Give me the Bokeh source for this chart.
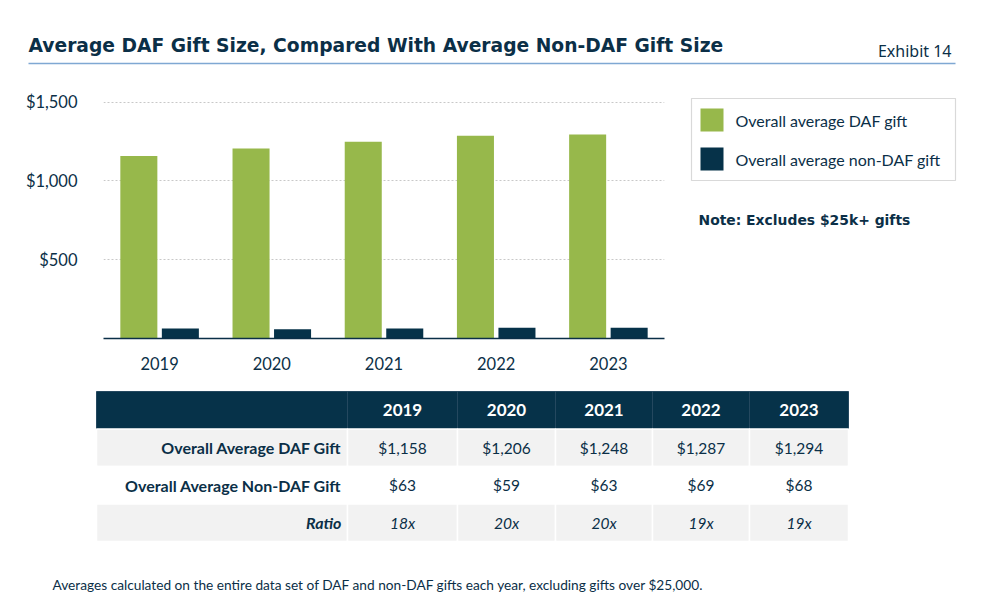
from bokeh.plotting import figure
from bokeh.models import (ColumnDataSource, FactorRange, Range1d, FixedTicker,
                          NumeralTickFormatter)
from bokeh.transform import dodge
from bokeh.layouts import column, row
from bokeh.core.properties import value
from bokeh.embed import file_html
from bokeh.resources import INLINE

# ---------------- data ----------------
years = ["2019", "2020", "2021", "2022", "2023"]
daf_avg = [1158, 1206, 1248, 1287, 1294]
non_daf_avg = [63, 59, 63, 69, 68]
series_names = ["Overall average DAF gift", "Overall average non-DAF gift"]
row_labels = ["Overall Average DAF Gift", "Overall Average Non-DAF Gift", "Ratio"]
y_ticks = [500, 1000, 1500]
title_text = "Average DAF Gift Size, Compared With Average Non-DAF Gift Size"
exhibit_text = "Exhibit 14"
note_text = "Note: Excludes $25k+ gifts"
footnote_text = ("Averages calculated on the entire data set of DAF and non-DAF gifts "
                 "each year, excluding gifts over $25,000.")

# ---------------- style ----------------
GREEN = "#97b84b"
NAVY = "#063249"
TEXT = "#0b2f47"
GRAY_ROW = "#f2f2f2"
W = 986
BODY_FONT = "Lato"
HEAD_FONT = "DejaVu Sans"


def blank(width, height, x0, x1, y0, y1):
    f = figure(width=width, height=height, x_range=Range1d(x0, x1),
               y_range=Range1d(y0, y1), x_axis_type=None, y_axis_type=None,
               toolbar_location=None, output_backend="svg", min_border=0)
    f.grid.visible = False
    f.outline_line_color = None
    f.background_fill_color = "white"
    f.border_fill_color = "white"
    return f

# ---------------- header ----------------
head = blank(W, 80, 0, W, 80, 0)
head.text(x=[28], y=[44.5], text=[title_text], text_font=value(HEAD_FONT),
          text_font_style="bold", text_font_size="18.7px", text_color=TEXT,
          text_baseline="middle", text_align="left")
head.text(x=[951], y=[50], text=[exhibit_text], text_font=value("Noto Sans"),
          text_font_size="16px", text_color=TEXT,
          text_baseline="middle", text_align="right")
head.segment(x0=[28], x1=[955], y0=[63], y1=[63], line_color="#7fa8d3", line_width=1.5)

# ---------------- bar chart ----------------
src = ColumnDataSource(dict(year=years, daf=daf_avg, non=non_daf_avg))
bar = figure(width=680, height=300, x_range=FactorRange(factors=years, range_padding=0),
             y_range=Range1d(0, 1574), toolbar_location=None, output_backend="svg",
             min_border_left=103, min_border_right=16, min_border_top=10,
             min_border_bottom=42)
bar.outline_line_color = None
bar.vbar(x=dodge("year", -0.185, range=bar.x_range), top="daf", width=0.33,
         source=src, fill_color=GREEN, line_color=None)
bar.vbar(x=dodge("year", 0.185, range=bar.x_range), top="non", width=0.33,
         source=src, fill_color=NAVY, line_color=None)

bar.xgrid.grid_line_color = None
bar.ygrid.ticker = FixedTicker(ticks=y_ticks)
bar.ygrid.grid_line_color = "#c8c8c8"
bar.ygrid.grid_line_dash = "2 2"

bar.yaxis.ticker = FixedTicker(ticks=y_ticks)
bar.yaxis.formatter = NumeralTickFormatter(format="$0,0")
bar.yaxis.axis_line_color = None
bar.yaxis.major_tick_line_color = None
bar.yaxis.minor_tick_line_color = None
bar.yaxis.major_label_standoff = 20
bar.yaxis.major_label_text_font = BODY_FONT
bar.yaxis.major_label_text_font_size = "16.5px"
bar.yaxis.major_label_text_color = TEXT

bar.xaxis.axis_line_color = TEXT
bar.xaxis.axis_line_width = 1.5
bar.xaxis.major_tick_line_color = None
bar.xaxis.minor_tick_line_color = None
bar.xaxis.major_label_standoff = 12
bar.xaxis.major_label_text_font = BODY_FONT
bar.xaxis.major_label_text_font_size = "16.5px"
bar.xaxis.major_label_text_color = TEXT

# ---------------- legend + note ----------------
# this panel's frame is aligned with the bar chart's frame (page y 90..338)
side = blank(306, 300, 680, 986, 338, 90)
LEG_L, LEG_R, LEG_T, LEG_B = 691, 955, 98, 180
side.quad(left=[LEG_L], right=[LEG_R], top=[LEG_T], bottom=[LEG_B],
          fill_color="white", line_color="#d9d9d9", line_width=1.2)
sw_top = [108 + 39 * i for i in range(len(series_names))]
side.quad(left=[700] * 2, right=[723] * 2, top=sw_top, bottom=[t + 23 for t in sw_top],
          fill_color=[GREEN, NAVY], line_color=None)
side.text(x=[735] * 2, y=[t + 11.5 for t in sw_top], text=series_names,
          text_font=value(BODY_FONT), text_font_size="16px", text_color=TEXT,
          text_baseline="middle", text_align="left")
side.text(x=[698], y=[219.5], text=[note_text], text_font=value(HEAD_FONT),
          text_font_style="bold", text_font_size="13.9px", text_color=TEXT,
          text_baseline="middle", text_align="left")

# ---------------- table ----------------
tab = blank(W, 227, 0, W, 607, 380)
edges = [96, 347, 457, 555, 652, 749, 848]
TOP = 391
RH = 37.5
# header
tab.quad(left=edges[:-1], right=edges[1:], top=[TOP] * 6, bottom=[TOP + RH] * 6,
         fill_color=NAVY, line_color="#24485f", line_width=1)
centers = [(edges[i] + edges[i + 1]) / 2 for i in range(1, 6)]
tab.text(x=centers, y=[TOP + RH / 2] * 5, text=years, text_font=value(BODY_FONT),
         text_font_style="bold", text_font_size="17px", text_color="white",
         text_baseline="middle", text_align="center")
# body
daf_txt = [f"${v:,}" for v in daf_avg]
non_txt = [f"${v:,}" for v in non_daf_avg]
ratio_txt = [f"{round(d / n)}x" for d, n in zip(daf_avg, non_daf_avg)]
rows = [daf_txt, non_txt, ratio_txt]
for r, vals in enumerate(rows):
    t = TOP + RH * (r + 1)
    fill = GRAY_ROW if r % 2 == 0 else "white"
    tab.quad(left=edges[:-1], right=edges[1:], top=[t] * 6, bottom=[t + RH] * 6,
             fill_color=fill, line_color="white", line_width=1.5)
    style = "italic" if r == 2 else "normal"
    tab.text(x=[edges[1] - 6], y=[t + RH / 2], text=[row_labels[r]],
             text_font=value(BODY_FONT),
             text_font_style="bold italic" if r == 2 else "bold",
             text_font_size="16px", text_color=TEXT,
             text_baseline="middle", text_align="right")
    tab.text(x=centers, y=[t + RH / 2] * 5, text=vals, text_font=value(BODY_FONT),
             text_font_style=style, text_font_size="15.5px", text_color=TEXT,
             text_baseline="middle", text_align="center")
# footnote
tab.text(x=[52], y=[584], text=[footnote_text], text_font=value(BODY_FONT),
         text_font_size="13.7px", text_color=TEXT, text_baseline="middle",
         text_align="left")

layout = column(head, row(bar, side, spacing=0), tab, spacing=0)
open("out.html", "w").write(file_html(layout, INLINE))
